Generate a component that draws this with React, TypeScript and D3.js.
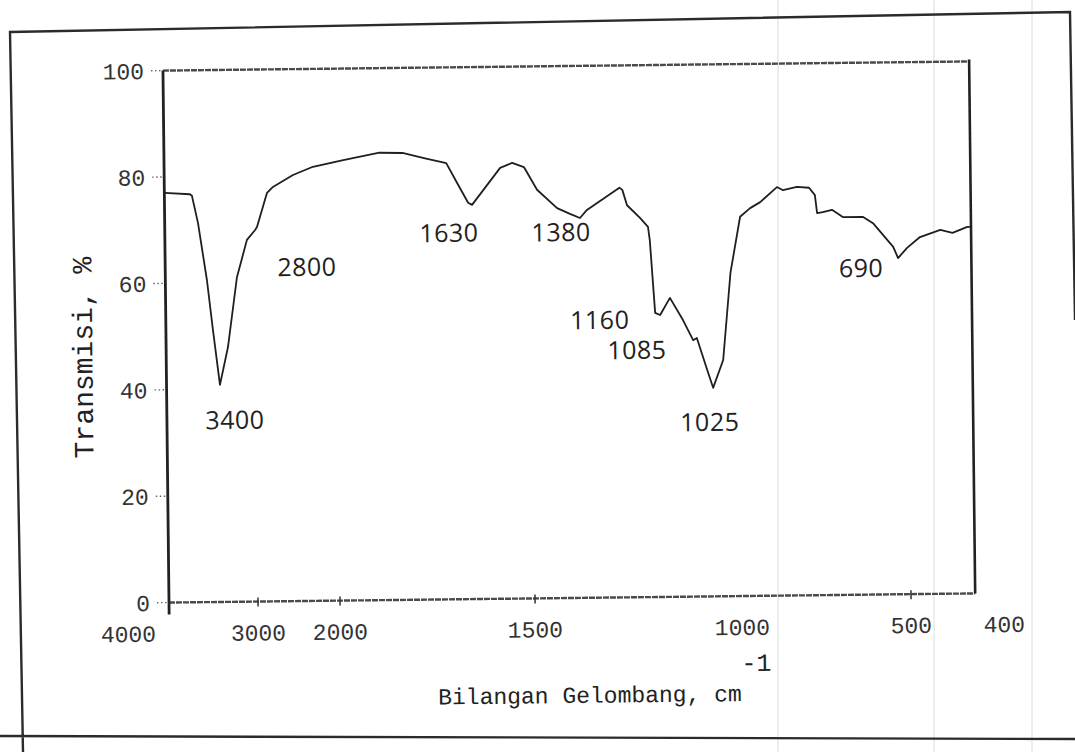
import { useEffect, useRef } from 'react';
import * as d3 from 'd3';

// spectrum (x in the axis' own printed units)
const WAVENUMBER = [3685, 3488, 3473, 3429, 3365, 3323, 3274, 3209, 3134, 3054, 2987, 2961, 2834, 2761, 2515, 2271, 1979, 1886, 1827, 1772, 1715, 1688, 1660, 1650, 1577, 1546, 1516, 1484, 1436, 1405, 1381, 1364, 1285, 1278, 1267, 1236, 1217, 1213, 1202, 1190, 1166, 1135, 1111, 1102, 1078, 1064, 1039, 1019, 993, 963, 933, 883, 865, 824, 788, 771, 765, 748, 721, 688, 629, 600, 541, 527, 500, 486, 464, 451, 435, 431];
const TRANSMISI = [77.0, 76.7, 76.4, 71.3, 60.5, 51.1, 40.8, 47.9, 61.0, 68.0, 69.8, 70.4, 76.8, 77.9, 80.1, 81.6, 82.8, 84.1, 84.0, 83.0, 82.0, 78.3, 74.5, 74.1, 81.0, 81.9, 81.1, 76.8, 73.3, 72.2, 71.4, 72.9, 77.0, 76.6, 73.7, 71.3, 69.6, 67.1, 53.4, 53.0, 56.2, 52.0, 48.2, 48.6, 42.6, 39.2, 44.4, 60.8, 71.3, 72.9, 74.0, 76.8, 76.2, 76.8, 76.6, 75.2, 71.8, 72.0, 72.4, 71.0, 71.0, 69.8, 65.3, 63.2, 65.1, 67.1, 68.4, 67.8, 68.9, 68.9];

// handwritten peak labels and where they sit
const PEAK_LABELS = ['3400', '2800', '1630', '1380', '1160', '1085', '1025', '690'];
const PEAK_LABEL_X = [3162, 2357, 1710, 1427, 1336, 1247, 1073, 637];
const PEAK_LABEL_Y = [34.2, 62.8, 68.9, 68.8, 52.2, 46.5, 32.8, 61.4];

// printed axis (non-uniform scale)
const X_TICKS = [4000, 3000, 2000, 1500, 1000, 500, 400];
const X_TICK_MARKS = [3000, 2000, 1500, 500];
const Y_TICKS = [100, 80, 60, 40, 20, 0];
const X_FRAME = [3685, 431];

const W = 1075;
const H = 752;

export default function App() {
  const svgRef = useRef<SVGSVGElement>(null);

  useEffect(() => {
    if (!svgRef.current) return;
    const svg = d3.select(svgRef.current);
    svg.selectAll('*').remove();

    svg.append('rect').attr('width', W).attr('height', H).attr('fill', '#fff');

    // faint scanner streaks
    for (const sx of [778, 934, 1032]) {
      svg.append('line').attr('x1', sx).attr('x2', sx).attr('y1', 0).attr('y2', H)
        .attr('stroke', '#dcdcdc').attr('stroke-width', 1);
    }

    // outer page border (scanned, slightly skewed)
    svg.append('path')
      .attr('d', 'M23,752 L10,32 L1070,12 L1075,320 M0,736 L1075,739')
      .attr('fill', 'none').attr('stroke', '#2b2b2b').attr('stroke-width', 2.4);

    const g = svg.append('g').attr('transform', 'rotate(-0.65, 569, 331.5)');

    const x = d3.scaleLinear().domain(X_TICKS).range([125, 255, 337, 532, 739, 908, 1001]);
    const y = d3.scaleLinear().domain([0, 100]).range([598, 66]);

    const x0 = x(X_FRAME[0]);
    const x1 = x(X_FRAME[1]);

    // frame
    g.append('line').attr('x1', x0).attr('x2', x1).attr('y1', y(100)).attr('y2', y(100))
      .attr('stroke', '#4a4a4a').attr('stroke-width', 2.4).attr('stroke-dasharray', '6,1');
    g.append('line').attr('x1', x0).attr('x2', x1).attr('y1', y(0)).attr('y2', y(0))
      .attr('stroke', '#4a4a4a').attr('stroke-width', 2.4).attr('stroke-dasharray', '6,1');
    g.append('line').attr('x1', x0).attr('x2', x0).attr('y1', y(100)).attr('y2', y(0) + 12)
      .attr('stroke', '#222').attr('stroke-width', 2.8);
    g.append('line').attr('x1', x1).attr('x2', x1).attr('y1', y(100) - 2).attr('y2', y(0))
      .attr('stroke', '#222').attr('stroke-width', 2.6);

    // y ticks + labels
    const yAxis = g.append('g');
    yAxis.selectAll('line').data(Y_TICKS).enter().append('line')
      .attr('x1', x0 - 12).attr('x2', x0 - 2)
      .attr('y1', d => y(d)).attr('y2', d => y(d))
      .attr('stroke', '#666').attr('stroke-width', 1.4).attr('stroke-dasharray', '1.5,2.5');
    yAxis.selectAll('text').data(Y_TICKS).enter().append('text')
      .attr('x', x0 - 19).attr('y', d => y(d))
      .attr('dy', '0.36em')
      .attr('text-anchor', 'end')
      .attr('font-family', 'Liberation Mono, monospace')
      .attr('font-size', 23)
      .attr('fill', '#333')
      .text(d => String(d));

    // x ticks + labels
    const xAxis = g.append('g');
    xAxis.selectAll('line').data(X_TICK_MARKS).enter().append('line')
      .attr('x1', d => x(d)).attr('x2', d => x(d))
      .attr('y1', y(0) - 4).attr('y2', y(0) + 5)
      .attr('stroke', '#333').attr('stroke-width', 1.5);
    xAxis.selectAll('text').data(X_TICKS).enter().append('text')
      .attr('x', d => x(d)).attr('y', 637)
      .attr('text-anchor', 'middle')
      .attr('font-family', 'Liberation Mono, monospace')
      .attr('font-size', 23)
      .attr('fill', '#333')
      .text(d => String(d));

    // spectrum
    const line = d3.line<number>()
      .x((_, i) => x(WAVENUMBER[i]))
      .y(d => y(d));
    g.append('path')
      .datum(TRANSMISI)
      .attr('d', line)
      .attr('fill', 'none')
      .attr('stroke', '#1f1f1f')
      .attr('stroke-width', 1.8)
      .attr('stroke-linejoin', 'round');

    // peak annotations
    g.append('g').selectAll('text').data(PEAK_LABELS).enter().append('text')
      .attr('x', (_, i) => x(PEAK_LABEL_X[i]))
      .attr('y', (_, i) => y(PEAK_LABEL_Y[i]))
      .attr('dy', '0.36em')
      .attr('text-anchor', 'middle')
      .attr('font-family', 'Open Sans, sans-serif')
      .attr('font-size', 25)
      .attr('letter-spacing', 0.5)
      .attr('fill', '#222')
      .text(d => d);

    // axis titles
    g.append('text')
      .attr('transform', 'translate(82, 352) rotate(-90)')
      .attr('text-anchor', 'middle')
      .attr('dy', '0.36em')
      .attr('font-family', 'Liberation Mono, monospace')
      .attr('font-size', 28)
      .attr('fill', '#222')
      .text('Transmisi, %');

    const xt = g.append('text')
      .attr('x', 434).attr('y', 703)
      .attr('font-family', 'Liberation Mono, monospace')
      .attr('font-size', 23)
      .attr('fill', '#222');
    xt.append('tspan').text('Bilangan Gelombang, cm');
    xt.append('tspan').attr('dx', 0).attr('dy', -30).attr('font-size', 25).text('-1');
  }, []);

  return (
    <svg
      ref={svgRef}
      width={W}
      height={H}
      style={{ position: 'absolute', left: 0, top: 0, background: '#fff' }}
    />
  );
}
